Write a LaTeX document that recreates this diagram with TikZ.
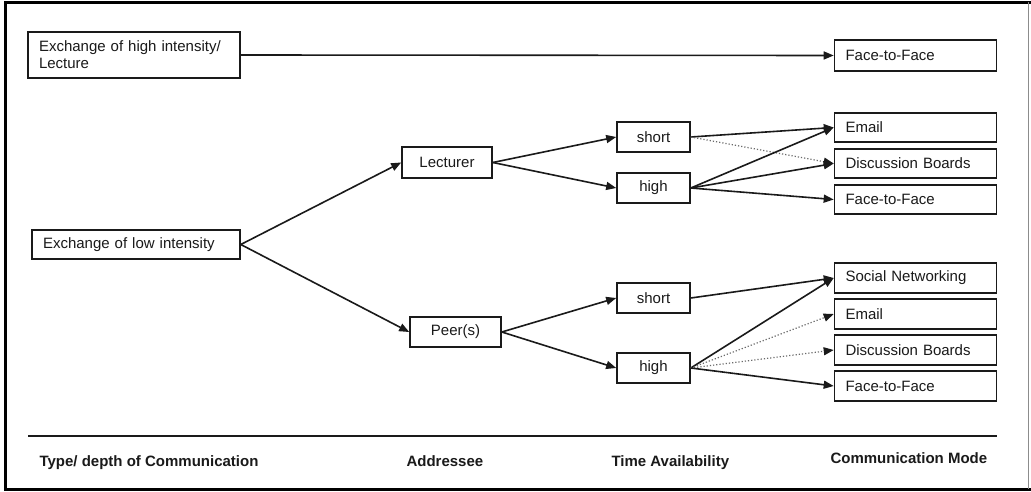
\documentclass[tikz,border=0pt]{standalone}
\usepackage{fontspec}
\setmainfont{Liberation Sans}
\usetikzlibrary{arrows.meta}
\definecolor{ink}{HTML}{1A1A1A}
\begin{document}
\begin{tikzpicture}[x=1pt,y=-1pt,
  every node/.style={font=\fontsize{15}{17}\selectfont, text=ink},
  box/.style={draw=ink, line width=1.6pt, inner sep=0pt, minimum height=30pt},
  lbox/.style={box, inner xsep=11pt, align=left},
  cbox/.style={box, align=center},
  conn/.style={draw=ink, line width=1.6pt, -{Triangle[length=10pt,width=8pt]}},
  dconn/.style={draw=ink!65, line width=1.2pt, dotted, -{Triangle[length=10pt,width=8pt,color=ink]}},
  hdr/.style={anchor=base west, font=\fontsize{15}{17}\selectfont\bfseries}
]
\useasboundingbox (0,0) rectangle (1031,492);
\fill[white] (0,0) rectangle (1031,492);
% frame
\draw[black, line width=3pt] (1031,2.5) -- (5,2.5) -- (5,489) -- (1031,489);
\draw[black!45, line width=0.8pt] (1028.5,2.5) -- (1028.5,489);

% left column
\node[lbox, text width=190pt, minimum height=46pt, inner xsep=11pt] (hi) at (134,55)
  {Exchange of high intensity/\\Lecture};
\node[lbox, text width=186pt, minimum height=29pt] (lo) at (136,244.5) {Exchange of low intensity};

% addressee
\node[cbox, minimum width=90pt, minimum height=31pt] (lec) at (447,162.5) {Lecturer};
\node[cbox, minimum width=91pt] (peer) at (455.5,332) {Peer(s)};

% time availability
\node[cbox, minimum width=73pt] (s1) at (653.5,137) {short};
\node[cbox, minimum width=73pt] (h1) at (653.5,188) {high};
\node[cbox, minimum width=73pt] (s2) at (653.5,298) {short};
\node[cbox, minimum width=73pt] (h2) at (653.5,368) {high};

% communication modes
\node[lbox, text width=140pt, minimum height=31pt] (f0) at (915.5,55.5) {Face-to-Face};
\node[lbox, text width=140pt, minimum height=29pt] (e1) at (915.5,127.5) {Email};
\node[lbox, text width=140pt, minimum height=29pt] (d1) at (915.5,163.5) {Discussion Boards};
\node[lbox, text width=140pt, minimum height=29pt] (f1) at (915.5,199.5) {Face-to-Face};
\node[lbox, text width=140pt, minimum height=30pt] (sn) at (915.5,278) {Social Networking};
\node[lbox, text width=140pt, minimum height=30pt] (e2) at (915.5,314) {Email};
\node[lbox, text width=140pt, minimum height=30pt] (d2) at (915.5,350) {Discussion Boards};
\node[lbox, text width=140pt, minimum height=30pt] (f2) at (915.5,386) {Face-to-Face};

% connectors
\draw[conn] (hi.east) -- (f0.west);
\draw[conn] (lo.east) -- (lec.west);
\draw[conn] (lo.east) -- (peer.west);
\draw[conn] (lec.east) -- (s1.west);
\draw[conn] (lec.east) -- (h1.west);
\draw[conn] (peer.east) -- (s2.west);
\draw[conn] (peer.east) -- (h2.west);

\draw[conn] (s1.east) -- (e1.west);
\draw[dconn] (s1.east) -- (d1.west);
\draw[conn] (h1.east) -- (e1.west);
\draw[conn] (h1.east) -- (d1.west);
\draw[conn] (h1.east) -- (f1.west);

\draw[conn] (s2.east) -- (sn.west);
\draw[conn] (h2.east) -- (sn.west);
\draw[dconn] (h2.east) -- (e2.west);
\draw[dconn] (h2.east) -- (d2.west);
\draw[conn] (h2.east) -- (f2.west);

% axis line and headers
\coordinate (axl) at (28,436);
\coordinate (axr) at (997,436);
\draw[ink, line width=1.4pt] (axl) -- (axr);
\node[hdr] (t1) at (36,466) {Type/ depth of Communication};
\node[hdr] (t2) at (403,466) {Addressee};
\node[hdr] (t3) at (608,466) {Time Availability};
\node[hdr] (t4) at (827,463) {Communication Mode};
\end{tikzpicture}
\end{document}
